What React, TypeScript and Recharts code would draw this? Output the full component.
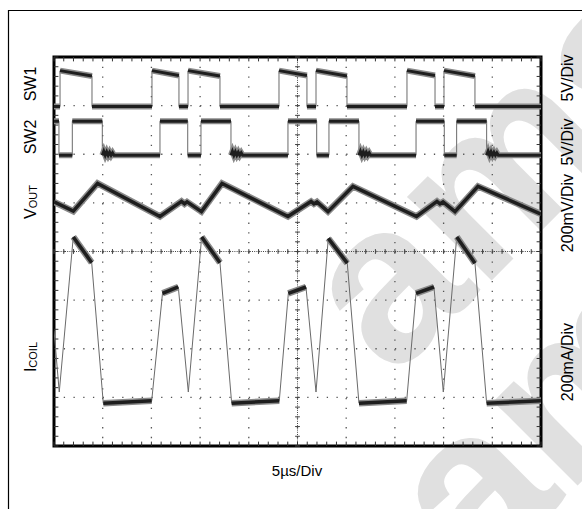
import React from "react";
import { LineChart, Line, XAxis, YAxis, CartesianGrid, ReferenceLine, ReferenceArea } from "recharts";

// scope capture: time in µs (5µs/div, 10 div), level in divisions counted from the bottom (8 div)
const xTicks = [0, 5, 10, 15, 20, 25, 30, 35, 40, 45, 50];
const yTicks = [0, 1, 2, 3, 4, 5, 6, 7, 8];

const sw1 = [
  [0, 6.98], [0.62, 6.98], [0.62, 7.72], [3.9, 7.61], [3.9, 6.98], [10.06, 6.98], [10.06, 7.72],
  [12.83, 7.62], [12.83, 6.98], [13.76, 6.98], [13.76, 7.72], [17.04, 7.61], [17.04, 6.98],
  [23.1, 6.98], [23.1, 7.72], [25.97, 7.62], [25.97, 6.98], [26.9, 6.98], [26.9, 7.72],
  [30.08, 7.61], [30.08, 6.98], [36.24, 6.98], [36.24, 7.72], [39.12, 7.62], [39.12, 6.98],
  [40.04, 6.98], [40.04, 7.72], [43.22, 7.61], [43.22, 6.98], [50, 6.98],
];

const sw2 = [
  [0, 6.68], [0.51, 6.68], [0.51, 5.98], [1.88, 5.98], [1.88, 6.68], [4.96, 6.68], [4.96, 5.98],
  [5.11, 6.06], [5.26, 5.98], [5.41, 6.05], [5.56, 5.98], [5.71, 6.04], [5.86, 5.98], [6.01, 6.03], [6.16, 5.98],
  [10.88, 5.98], [10.88, 6.68], [13.73, 6.68], [13.73, 5.98], [15.09, 5.98], [15.09, 6.68],
  [18.17, 6.68], [18.17, 5.98],
  [18.32, 6.06], [18.47, 5.98], [18.62, 6.05], [18.77, 5.98], [18.92, 6.04], [19.07, 5.98], [19.22, 6.03], [19.37, 5.98],
  [24.02, 5.98], [24.02, 6.68], [26.97, 6.68], [26.97, 5.98], [28.23, 5.98], [28.23, 6.68],
  [31.31, 6.68], [31.31, 5.98],
  [31.46, 6.06], [31.61, 5.98], [31.76, 6.05], [31.91, 5.98], [32.06, 6.04], [32.21, 5.98], [32.36, 6.03], [32.51, 5.98],
  [37.17, 5.98], [37.17, 6.68], [40.07, 6.68], [40.07, 5.98], [41.34, 5.98], [41.34, 6.68],
  [44.42, 6.68], [44.42, 5.98],
  [44.57, 6.06], [44.72, 5.98], [44.87, 6.05], [45.02, 5.98], [45.17, 6.04], [45.32, 5.98], [45.47, 6.03], [45.62, 5.98],
  [50, 5.98],
];

const vout = [
  [0, 5.02], [1.98, 4.83], [4.47, 5.4], [10.88, 4.72], [13.09, 5.03], [13.4, 4.98], [13.66, 5.02],
  [15.14, 4.82], [17.25, 5.4], [24.02, 4.72], [26.39, 5.03], [26.69, 4.98], [27.0, 5.02],
  [28.13, 4.82], [30.7, 5.34], [37.22, 4.72], [39.32, 5.03], [39.63, 4.98], [39.94, 5.02],
  [41.17, 4.82], [43.53, 5.34], [50, 4.77],
];

const icoil = [
  [0, 2.38], [0.54, 1.11], [1.98, 4.3], [3.87, 3.77], [5.06, 0.88], [10.03, 0.93], [11.14, 3.14],
  [12.76, 3.27], [13.79, 1.11], [15.16, 4.3], [17.04, 3.77], [18.24, 0.88], [23.13, 0.93],
  [24.06, 3.14], [25.87, 3.27], [26.9, 1.11], [28.16, 4.27], [30.11, 3.76], [31.31, 0.88],
  [36.21, 0.93], [37.17, 3.14], [39.01, 3.27], [39.97, 1.11], [41.35, 4.3], [43.22, 3.76],
  [44.42, 0.88], [50, 0.93],
];

type Pt = { t: number; v: number | null };

const toPts = (a: number[][]): Pt[] => a.map(([t, v]) => ({ t, v }));

// slow parts of a trace show up as a thick noisy band on the scope, fast edges as thin lines
function bandOf(a: number[][], maxSlope: number): Pt[] {
  const out: Pt[] = [];
  let open = false;
  for (let i = 1; i < a.length; i++) {
    const [t0, v0] = a[i - 1];
    const [t1, v1] = a[i];
    const flat = t1 > t0 && Math.abs((v1 - v0) / (t1 - t0)) < maxSlope;
    if (flat) {
      if (!open) out.push({ t: t0, v: v0 });
      out.push({ t: t1, v: v1 });
      open = true;
    } else if (open) {
      out.push({ t: t1, v: null });
      open = false;
    }
  }
  return out;
}

const traces = [
  { key: "sw1", data: sw1, band: 4.5 },
  { key: "sw2", data: sw2, band: 4.5 },
  { key: "vout", data: vout, band: 5 },
  { key: "icoil", data: icoil, band: 5 },
];

const minorX = Array.from({ length: 51 }, (_, i) => i);
const minorY = Array.from({ length: 41 }, (_, i) => i * 0.2);

const font = "'Liberation Sans', Arial, sans-serif";

function Labels() {
  const side = { fontFamily: font, fontSize: 16, fill: "#000", textAnchor: "middle" as const, dominantBaseline: "central" as const };
  const rot = (x: number, y: number) => `rotate(-90 ${x} ${y})`;
  return (
    <svg width={582} height={509} style={{ position: "absolute", left: 0, top: 0, pointerEvents: "none" }}>
      <text x={30} y={84} transform={rot(30, 84)} {...side}>SW1</text>
      <text x={30} y={137} transform={rot(30, 137)} {...side}>SW2</text>
      <text x={30} y={202} transform={rot(30, 202)} {...side}>
        V<tspan fontSize={11} dy={3}>OUT</tspan>
      </text>
      <text x={30} y={357} transform={rot(30, 357)} {...side}>
        I<tspan fontSize={11} dy={3}>COIL</tspan>
      </text>
      <text x={567} y={78} transform={rot(567, 78)} {...side}>5V/Div</text>
      <text x={567} y={142} transform={rot(567, 142)} {...side}>5V/Div</text>
      <text x={567} y={213} transform={rot(567, 213)} {...side}>200mV/Div</text>
      <text x={567} y={362} transform={rot(567, 362)} {...side}>200mA/Div</text>
      <text x={297} y={470} {...side} fontSize={15}>5µs/Div</text>
    </svg>
  );
}

export default function App() {
  const mark = { fontFamily: font, fontWeight: "bold" as const, fontSize: 225, fill: "#e0e0e0" };
  return (
    <div style={{ position: "absolute", left: 0, top: 0, width: 582, height: 509, overflow: "hidden", background: "#fff" }}>
      <svg width={582} height={509} style={{ position: "absolute", left: 0, top: 0 }}>
        <path d="M8.5 600 L8.5 10.5 L700 10.5" fill="none" stroke="#000" strokeWidth={1.2} />
        <text x={0} y={0} transform="translate(392 380) rotate(-45)" {...mark}>ams</text>
        <text x={0} y={0} transform="translate(478 585) rotate(-45)" {...mark}>ams</text>
      </svg>
      <div style={{ position: "absolute", left: 0, top: 0 }}>
        <LineChart width={582} height={509} margin={{ top: 57, right: 41, bottom: 63, left: 54 }}>
          <XAxis type="number" dataKey="t" domain={[0, 50]} ticks={xTicks} hide allowDataOverflow />
          <YAxis type="number" domain={[0, 8]} ticks={yTicks} hide allowDataOverflow />
          <CartesianGrid stroke="#555" strokeWidth={1.3} strokeDasharray="1.3 8.44" />
          <ReferenceLine x={25} stroke="#444" strokeDasharray="1 1.2" />
          <ReferenceLine y={4} stroke="#444" strokeDasharray="1 1.2" />
          {minorX.map((t) => (
            <ReferenceLine key={`cx${t}`} segment={[{ x: t, y: 3.95 }, { x: t, y: 4.05 }]} stroke="#444" />
          ))}
          {minorY.map((v) => (
            <ReferenceLine key={`cy${v}`} segment={[{ x: 24.75, y: v }, { x: 25.25, y: v }]} stroke="#444" />
          ))}
          {minorX.map((t) => (
            <ReferenceLine key={`tt${t}`} segment={[{ x: t, y: 8 }, { x: t, y: 7.91 }]} stroke="#333" />
          ))}
          {minorX.map((t) => (
            <ReferenceLine key={`tb${t}`} segment={[{ x: t, y: 0 }, { x: t, y: 0.09 }]} stroke="#333" />
          ))}
          {minorY.map((v) => (
            <ReferenceLine key={`tl${v}`} segment={[{ x: 0, y: v }, { x: 0.45, y: v }]} stroke="#333" />
          ))}
          {minorY.map((v) => (
            <ReferenceLine key={`tr${v}`} segment={[{ x: 50, y: v }, { x: 49.55, y: v }]} stroke="#333" />
          ))}
          {traces.map((tr) => (
            <Line
              key={`${tr.key}-edge`}
              data={toPts(tr.data)}
              dataKey="v"
              type="linear"
              stroke="#6a6a6a"
              strokeWidth={1}
              dot={false}
              activeDot={false}
              isAnimationActive={false}
            />
          ))}
          {traces.map((tr) => (
            <Line
              key={`${tr.key}-fuzz`}
              data={bandOf(tr.data, 1.8)}
              dataKey="v"
              type="linear"
              stroke="#8a8a8a"
              strokeWidth={tr.band + 1.5}
              dot={false}
              activeDot={false}
              connectNulls={false}
              isAnimationActive={false}
            />
          ))}
          {traces.map((tr) => (
            <Line
              key={`${tr.key}-band`}
              data={bandOf(tr.data, 1.8)}
              dataKey="v"
              type="linear"
              stroke="#1e1e1e"
              strokeWidth={tr.band - 1.5}
              dot={false}
              activeDot={false}
              connectNulls={false}
              isAnimationActive={false}
            />
          ))}
          <ReferenceArea x1={0} x2={50} y1={0} y2={8} fill="none" stroke="#000" strokeWidth={3} ifOverflow="visible" />
        </LineChart>
      </div>
      <Labels />
    </div>
  );
}
